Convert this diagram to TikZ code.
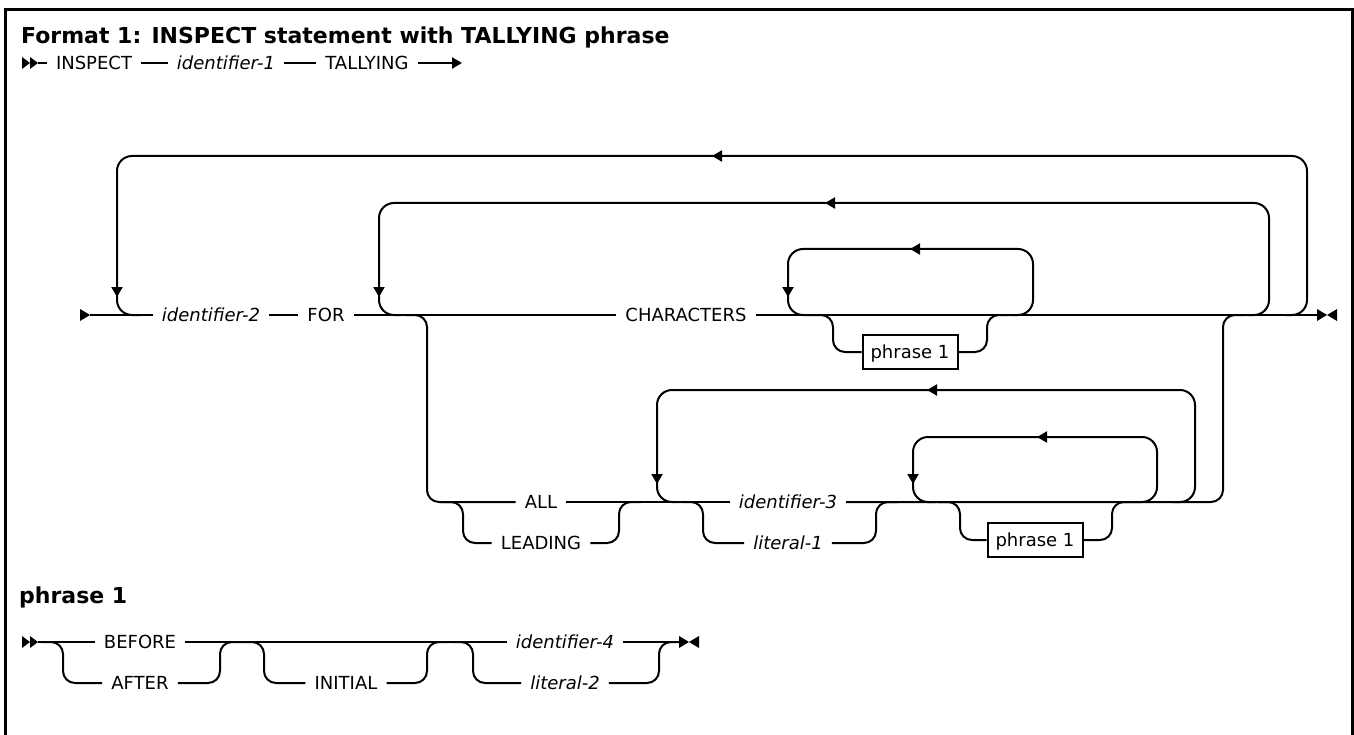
\documentclass[tikz,border=0pt]{standalone}
\usepackage{fontspec}
\setmainfont{DejaVu Sans}
\usetikzlibrary{arrows.meta}

\tikzset{
  rail/.style={line width=2pt, rounded corners=12pt},
  loop/.style={line width=2pt, rounded corners=15pt},
  kw/.style={font=\fontsize{18}{21}\selectfont, inner xsep=9pt, inner ysep=2pt,
    text height=13pt, text depth=0pt},
  var/.style={kw, font=\fontsize{18}{21}\selectfont\itshape},
  title/.style={font=\fontsize{22}{26}\selectfont\bfseries, inner sep=0pt, anchor=west},
  refbox/.style={draw, line width=2pt, font=\fontsize{18}{21}\selectfont,
    minimum width=95pt, minimum height=34pt, inner sep=0pt, text height=13pt, text depth=0pt},
  tipl/.style={line width=2pt, -{Triangle[length=10pt,width=11pt]}},
}

\begin{document}
\begin{tikzpicture}[x=1pt,y=-1pt]
  \useasboundingbox (0,0) rectangle (1354,735);
  \draw[line width=3pt] (5,735) -- (5,10) -- (1352,10) -- (1352,735);

  \node[title] (t1) at (21,37) {Format 1: INSPECT statement with TALLYING phrase};

  % first line
  \foreach \x in {22,30} \fill (\x,57) -- (\x+8,63) -- (\x,69) -- cycle;
  \coordinate (s1) at (38,63);
  \node[kw] (insp) at (94,63) {INSPECT};
  \node[var] (id1) at (226,63) {identifier-1};
  \node[kw] (tally) at (367,63) {TALLYING};
  \coordinate (e1) at (462,63);
  \draw[rail] (s1) -- (insp);
  \draw[rail] (insp) -- (id1);
  \draw[rail] (id1) -- (tally);
  \draw[tipl] (tally) -- (e1);

  % main line
  \fill (80,309) -- (90,315) -- (80,321) -- cycle;
  \coordinate (s2) at (90,315);
  \node[var] (id2) at (211,315) {identifier-2};
  \node[kw] (for) at (326,315) {FOR};
  \node[kw] (chars) at (686,315) {CHARACTERS};
  \coordinate (e2) at (1317,315);
  \draw[rail] (s2) -- (id2);
  \draw[rail] (id2) -- (for);
  \draw[rail] (for) -- (chars);
  \draw[rail] (chars) -- (e2);
  \fill (1317,309) -- (1327,315) -- (1317,321) -- cycle;
  \fill (1337,309) -- (1327,315) -- (1337,321) -- cycle;

  \draw[loop] (1285,315) -| (1307,156) -| (117,315) -- (139,315);
  \draw[loop] (1247,315) -| (1269,203) -| (379,315) -- (401,315);
  \draw[loop] (1011,315) -| (1033,249) -| (788,315) -- (810,315);

  \node[refbox] (p1a) at (910,352) {phrase 1};
  \draw[rail] (811,315) -| (833,352) -- (p1a);
  \draw[rail] (p1a) -| (987,315) -- (1009,315);

  % ALL / LEADING branch
  \node[kw] (all) at (541,502) {ALL};
  \node[kw] (lead) at (541,543) {LEADING};
  \node[var] (id3) at (788,502) {identifier-3};
  \node[var] (lit1) at (788,543) {literal-1};
  \node[refbox] (p1b) at (1035,540) {phrase 1};
  \draw[rail] (405,315) -| (427,502) -- (all);
  \draw[rail] (all) -- (id3);
  \draw[rail] (id3) -| (1223,315) -- (1245,315);
  \draw[rail] (441,502) -| (463,543) -- (lead);
  \draw[rail] (lead) -| (619,502) -- (641,502);
  \draw[rail] (681,502) -| (703,543) -- (lit1);
  \draw[rail] (lit1) -| (876,502) -- (898,502);
  \draw[loop] (1173,502) -| (1195,390) -| (657,502) -- (679,502);
  \draw[loop] (1135,502) -| (1157,437) -| (913,502) -- (935,502);
  \draw[rail] (938,502) -| (960,540) -- (p1b);
  \draw[rail] (p1b) -| (1112,502) -- (1134,502);

  \foreach \x/\y in {712/156,825/203,910/249,927/390,1037/437}
    \draw[tipl] (\x+12,\y) -- (\x,\y);
  \foreach \x/\y in {117/297,379/297,788/297,657/484,913/484}
    \draw[tipl] (\x,\y-12) -- (\x,\y);

  % phrase 1
  \node[title] (t2) at (19,597) {phrase 1};
  \foreach \x in {22,30} \fill (\x,636) -- (\x+8,642) -- (\x,648) -- cycle;
  \coordinate (s3) at (38,642);
  \node[kw] (bef) at (140,642) {BEFORE};
  \node[kw] (aft) at (140,683) {AFTER};
  \node[kw] (init) at (346,683) {INITIAL};
  \node[var] (id4) at (565,642) {identifier-4};
  \node[var] (lit2) at (565,683) {literal-2};
  \coordinate (e3) at (679,642);
  \draw[rail] (s3) -- (bef);
  \draw[rail] (bef) -- (id4);
  \draw[rail] (id4) -- (e3);
  \draw[rail] (41,642) -| (63,683) -- (aft);
  \draw[rail] (aft) -| (220,642) -- (242,642);
  \draw[rail] (242,642) -| (264,683) -- (init);
  \draw[rail] (init) -| (427,642) -- (449,642);
  \draw[rail] (451,642) -| (473,683) -- (lit2);
  \draw[rail] (lit2) -| (659,642) -- (679,642);
  \fill (679,636) -- (689,642) -- (679,648) -- cycle;
  \fill (699,636) -- (689,642) -- (699,648) -- cycle;
\end{tikzpicture}
\end{document}
